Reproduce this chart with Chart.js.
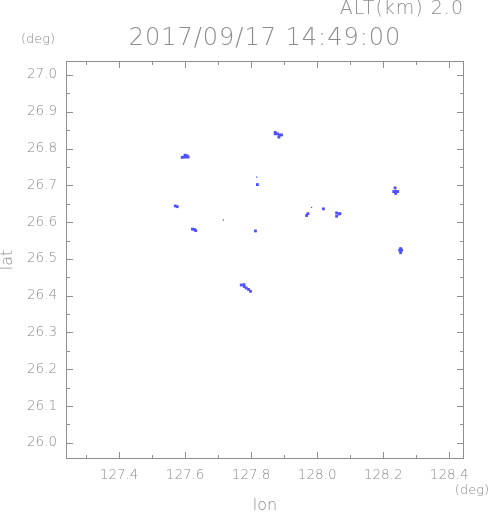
<!DOCTYPE html>
<html><head><meta charset="utf-8">
<script src="https://cdn.jsdelivr.net/npm/chart.js@4"></script>
<style>html,body{margin:0;padding:0;background:#fff}canvas{display:block}</style>
</head><body>
<canvas id="c" width="491" height="521"></canvas>
<script>
// ---- data ----
const lonTicks = [127.4, 127.6, 127.8, 128.0, 128.2, 128.4];
const lonMinor = [127.3, 127.5, 127.7, 127.9, 128.1, 128.3];
const latTicks = [26.0, 26.1, 26.2, 26.3, 26.4, 26.5, 26.6, 26.7, 26.8, 26.9, 27.0];
const latMinor = [26.05, 26.15, 26.25, 26.35, 26.45, 26.55, 26.65, 26.75, 26.85, 26.95];
const echoLon = [127.600,127.597,127.603,127.609,127.591,127.606,
  127.873,127.880,127.886,127.892,127.884,127.873,
  127.570,127.576,
  127.622,127.628,127.632,
  127.813,127.819,
  127.770,127.778,127.779,127.785,127.792,127.798,
  128.019,127.968,127.972,
  128.059,128.066,128.059,128.069,
  128.236,128.232,128.238,128.244,128.238,
  128.253,128.253,128.253,128.250,128.256];
const echoLat = [26.782,26.777,26.777,26.777,26.776,26.780,
  26.840,26.840,26.837,26.837,26.831,26.844,
  26.644,26.642,
  26.581,26.580,26.577,
  26.576,26.702,
  26.429,26.430,26.425,26.421,26.417,26.412,
  26.636,26.618,26.623,
  26.625,26.622,26.616,26.623,
  26.693,26.683,26.684,26.683,26.678,
  26.528,26.523,26.517,26.524,26.524];
const speckLon = [127.817, 127.716, 127.983];
const speckLat = [26.722, 26.606, 26.640];
const titleText = "2017/09/17 14:49:00";
const altText = "ALT(km) 2.0";
const unitText = "(deg)";

const GRAY = '#8c8c8c';
const FONT = "'DejaVu Sans', sans-serif";

const frame = {
  id: 'frame',
  afterDraw(chart) {
    const {ctx, chartArea: a, scales: {x, y}} = chart;
    ctx.save();
    ctx.strokeStyle = '#8f8f8f';
    ctx.lineWidth = 1;
    ctx.strokeRect(a.left + 0.5, a.top + 0.5, a.right - a.left - 1, a.bottom - a.top - 1);
    ctx.beginPath();
    const xt = (v, len) => {
      const p = Math.round(x.getPixelForValue(v)) + 0.5;
      ctx.moveTo(p, a.bottom); ctx.lineTo(p, a.bottom - len);
      ctx.moveTo(p, a.top); ctx.lineTo(p, a.top + len);
    };
    const yt = (v, len) => {
      const p = Math.round(y.getPixelForValue(v)) + 0.5;
      ctx.moveTo(a.left, p); ctx.lineTo(a.left + len, p);
      ctx.moveTo(a.right, p); ctx.lineTo(a.right - len, p);
    };
    lonTicks.forEach(v => xt(v, 7));
    lonMinor.forEach(v => xt(v, 4));
    latTicks.forEach(v => yt(v, 7));
    latMinor.forEach(v => yt(v, 4));
    ctx.stroke();

    ctx.fillStyle = GRAY;
    ctx.textBaseline = 'middle';
    ctx.font = "200 24px " + FONT;
    ctx.textAlign = 'center';
    if ('letterSpacing' in ctx) ctx.letterSpacing = '1px';
    ctx.fillText(titleText, 265, 39);
    ctx.font = "200 19px " + FONT;
    ctx.textAlign = 'right';
    ctx.fillText(altText, 464, 9);
    if ('letterSpacing' in ctx) ctx.letterSpacing = '0px';
    ctx.font = "200 13px " + FONT;
    ctx.textAlign = 'left';
    ctx.fillText(unitText, 21, 40);
    ctx.textAlign = 'right';
    ctx.fillText(unitText, 489, 491);
    ctx.restore();
  }
};

new Chart(document.getElementById('c'), {
  type: 'scatter',
  data: {
    datasets: [
      { data: echoLon.map((v, i) => ({x: v, y: echoLat[i]})),
        pointStyle: 'rect', pointRadius: 2, borderWidth: 0,
        backgroundColor: '#4f50ff', pointHoverRadius: 2 },
      { data: speckLon.map((v, i) => ({x: v, y: speckLat[i]})),
        pointStyle: 'rect', pointRadius: 0.9, borderWidth: 0,
        backgroundColor: '#4f50ff', pointHoverRadius: 0.9 }
    ]
  },
  options: {
    responsive: false,
    animation: false,
    events: [],
    layout: { padding: { left: 0, top: 61, right: 27, bottom: 0 } },
    plugins: { legend: { display: false }, tooltip: { enabled: false } },
    scales: {
      x: {
        type: 'linear', position: 'bottom', min: 127.239, max: 128.445,
        afterBuildTicks: s => { s.ticks = lonTicks.map(v => ({value: v})); },
        afterFit: s => { s.height = 62; },
        grid: { display: false, drawTicks: false },
        border: { display: false },
        ticks: { padding: 8, color: GRAY, font: { family: FONT, size: 13.5, weight: 200 },
          maxRotation: 0, autoSkip: false, callback: v => v.toFixed(1) },
        title: { display: true, text: 'lon', color: GRAY,
          font: { family: FONT, size: 16, weight: 200, lineHeight: 1 }, padding: { top: 0, bottom: 7 } }
      },
      y: {
        type: 'linear', position: 'left', min: 25.956, max: 27.038,
        afterBuildTicks: s => { s.ticks = latTicks.map(v => ({value: v})); },
        afterFit: s => { s.width = 66; },
        grid: { display: false, drawTicks: false },
        border: { display: false },
        ticks: { padding: 9, color: GRAY, font: { family: FONT, size: 13.5, weight: 200 },
          autoSkip: false, callback: v => v.toFixed(1) },
        title: { display: true, text: 'lat', color: GRAY,
          font: { family: FONT, size: 16, weight: 200, lineHeight: 1 }, padding: { top: 0, bottom: 0 } }
      }
    }
  },
  plugins: [frame]
});
</script>
</body></html>
